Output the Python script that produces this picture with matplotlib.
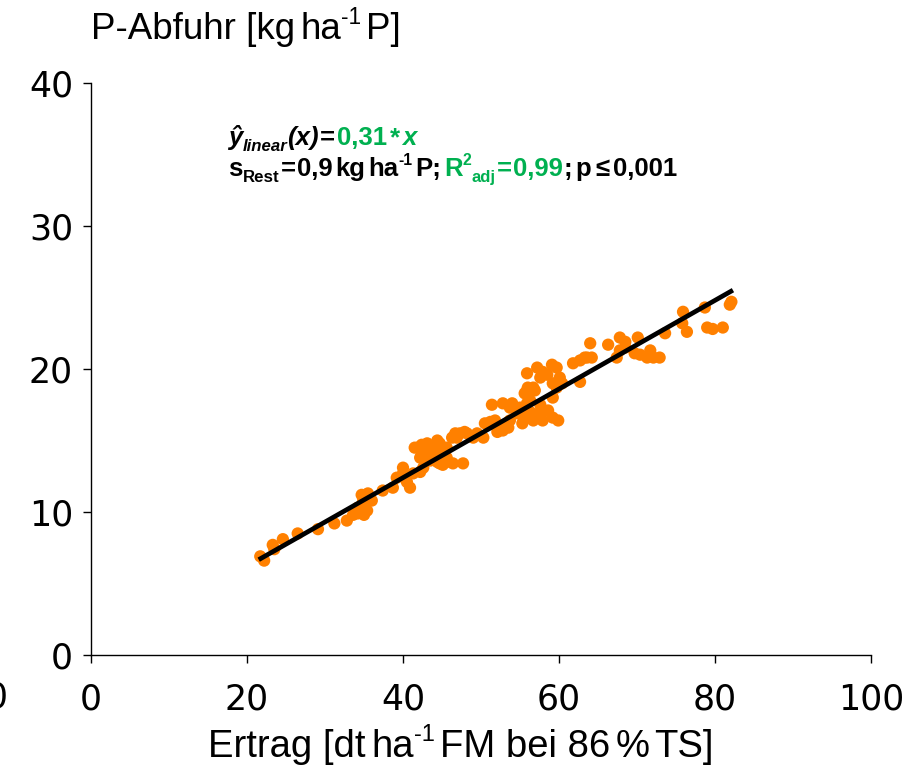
import matplotlib
matplotlib.use("Agg")
import matplotlib.pyplot as plt
import numpy as np
from matplotlib.transforms import offset_copy

# Ertrag [dt/ha FM] and P-Abfuhr [kg/ha P]
ertrag = [
    21.7, 22.2, 23.3, 23.5, 24.6, 26.5, 29.1, 31.2, 32.8, 33.6, 34.2, 35.0, 34.2, 34.9,
    35.5, 34.7, 36.0, 35.4, 37.4, 38.7, 39.2, 40.5, 40.9, 40.0, 41.3, 42.2, 42.6, 40.0,
    41.5, 42.4, 43.1, 43.7, 44.4, 45.0, 43.5, 44.7, 45.6, 46.4, 47.7, 45.6, 46.3, 47.3,
    48.2, 49.0, 45.6, 44.7, 50.3, 50.5, 41.9, 46.7, 47.9, 51.2, 52.1, 52.8, 53.3, 53.7,
    51.4, 52.8, 54.0, 55.0, 55.6, 44.4, 45.1, 42.2, 42.8, 46.9, 44.4, 49.5,
    52.1, 53.7, 54.6, 55.4, 56.3, 55.6, 56.0, 56.7, 55.9, 57.2, 57.9, 59.1, 59.7, 60.1,
    57.6, 58.5, 60.4, 61.8, 62.7, 63.6, 64.2, 64.0, 62.7, 59.7, 59.2, 58.6, 59.2, 57.9,
    56.7, 57.6, 55.3, 51.8, 53.5, 56.3, 57.6, 56.9, 55.9, 59.2, 57.9, 55.9, 59.9,
    63.3, 66.3, 67.8, 68.5, 67.8, 67.4, 68.5, 70.1, 69.7, 70.4, 71.3, 71.7, 72.1, 72.9,
    73.6, 75.9, 75.8, 76.4, 78.7, 79.0, 79.7, 81.0, 81.9, 82.1,
]
abfuhr = [
    6.9, 6.6, 7.7, 7.4, 8.1, 8.5, 8.8, 9.2, 9.4, 9.8, 9.9, 9.8, 10.3, 10.8,
    11.3, 11.2, 10.8, 10.1, 11.5, 11.7, 12.4, 12.1, 11.7, 12.7, 12.7, 12.8, 13.1, 13.1,
    14.5, 14.7, 14.8, 14.3, 14.1, 13.8, 13.6, 13.4, 13.5, 13.4, 13.4, 14.5, 15.2, 15.5,
    15.5, 15.2, 13.8, 14.8, 15.2, 16.2, 14.5, 15.5, 15.6, 16.3, 15.6, 15.7, 16.2, 16.4,
    17.5, 17.6, 17.6, 17.3, 16.6, 13.5, 13.3, 13.8, 14.0, 15.2, 15.0, 15.5,
    15.9, 17.3, 16.9, 16.8, 17.0, 18.3, 18.7, 18.7, 19.7, 20.1, 19.8, 20.3, 20.1, 19.4,
    19.4, 19.6, 19.0, 20.4, 20.6, 20.8, 20.8, 21.8, 19.1, 18.7, 18.0, 17.1, 16.6, 16.4,
    16.4, 17.0, 16.2, 16.4, 15.9, 17.8, 17.5, 18.5, 18.5, 19.0, 17.1, 17.6, 16.4,
    20.8, 21.7, 22.2, 21.9, 21.3, 20.8, 21.5, 22.2, 21.1, 21.0, 20.8, 21.3, 20.8, 20.8,
    22.5, 24.0, 23.2, 22.6, 24.3, 22.9, 22.8, 22.9, 24.5, 24.7,
]

SLOPE = 0.31
line_x = [21.5, 82.3]

x_ticks = [0, 20, 40, 60, 80, 100]
y_ticks = [0, 10, 20, 30, 40]

ORANGE = "#FF8000"
GREEN = "#00B050"
W, H = 921, 768


def rich_text(fig, px, py, segs, size, family):
    # draws text pieces one after another, px/py in pixels from top-left
    r = fig.canvas.get_renderer()
    dx = 0.0
    for s, opts in segs:
        scale = opts.get("scale", 1.0)
        rise = opts.get("rise", 0.0)
        dx += opts.get("gap", 0.0) * fig.dpi / 72
        tr = offset_copy(fig.transFigure, x=dx, y=rise * size * fig.dpi / 72, units="dots")
        t = fig.text(px / W, 1 - py / H, s, transform=tr, fontsize=size * scale,
                     color=opts.get("color", "black"), fontweight=opts.get("weight", "normal"),
                     fontstyle=opts.get("style", "normal"), family=family,
                     ha="left", va="baseline")
        dx += t.get_window_extent(r).width


fig = plt.figure(figsize=(W / 100, H / 100), dpi=100)
ax = fig.add_axes([91 / W, 1 - 655 / H, 780 / W, 572 / H])

ax.scatter(ertrag, abfuhr, s=78, color=ORANGE, edgecolors="none", zorder=2)
lx = np.array(line_x)
ax.plot(lx, SLOPE * lx, color="black", lw=3.4, solid_capstyle="butt", zorder=3)

ax.set_xlim(0, 100)
ax.set_ylim(0, 40)
ax.set_xticks(x_ticks)
ax.set_yticks(y_ticks)
for side in ["top", "right"]:
    ax.spines[side].set_visible(False)
for side in ["left", "bottom"]:
    ax.spines[side].set_linewidth(1.0)
ax.tick_params(direction="out", length=6, width=1.0, labelsize=25, colors="black")
ax.tick_params(axis="x", pad=14)
ax.tick_params(axis="y", pad=7)
for lab in ax.get_xticklabels() + ax.get_yticklabels():
    lab.set_family("DejaVu Sans")

# stray cut-off label at the left edge
fig.text(8 / W, 1 - 697 / H, "0", ha="right", va="center", fontsize=25, family="DejaVu Sans")

sans = ["Liberation Sans", "DejaVu Sans"]
sup = {"scale": 0.62, "rise": 0.42}

rich_text(fig, 91, 39, [
    ("P-Abfuhr [kg", {}),
    ("ha", {"gap": 4}),
    ("-1", sup),
    ("P]", {"gap": 3}),
], 26.5, sans)

rich_text(fig, 208, 757, [
    ("Ertrag [dt", {}),
    ("ha", {"gap": 4}),
    ("-1", sup),
    ("FM bei 86", {"gap": 4}),
    ("%", {"gap": 4}),
    ("TS]", {"gap": 3}),
], 27.5, sans)

b = {"weight": "bold"}
bi = {"weight": "bold", "style": "italic"}
g = {"weight": "bold", "color": GREEN}
rich_text(fig, 228, 145, [
    ("ŷ", bi),
    ("linear", dict(bi, scale=0.65, rise=-0.22)),
    ("(x)", bi),
    ("=", dict(b, gap=1)),
    ("0,31", dict(g, gap=1)),
    ("*", dict(g, gap=2)),
    ("x", dict(g, style="italic", gap=2)),
], 18.5, sans)

rich_text(fig, 228, 176, [
    ("s", b),
    ("Rest", dict(b, scale=0.65, rise=-0.25)),
    ("=", dict(b, gap=1)),
    ("0,9", dict(b, gap=1)),
    ("kg", dict(b, gap=2)),
    ("ha", dict(b, gap=2)),
    ("-1", dict(b, **sup)),
    ("P;", dict(b, gap=2)),
    ("R", dict(g, gap=2.5)),
    ("2", dict(g, **sup)),
    ("adj", dict(g, scale=0.65, rise=-0.25)),
    ("=", dict(g, gap=1)),
    ("0,99", dict(g, gap=1)),
    (";", b),
    ("p", dict(b, gap=2.5)),
    ("≤", dict(b, gap=3)),
    ("0,001", dict(b, gap=3)),
], 18.5, sans)

fig.savefig("out.png", dpi=100)
